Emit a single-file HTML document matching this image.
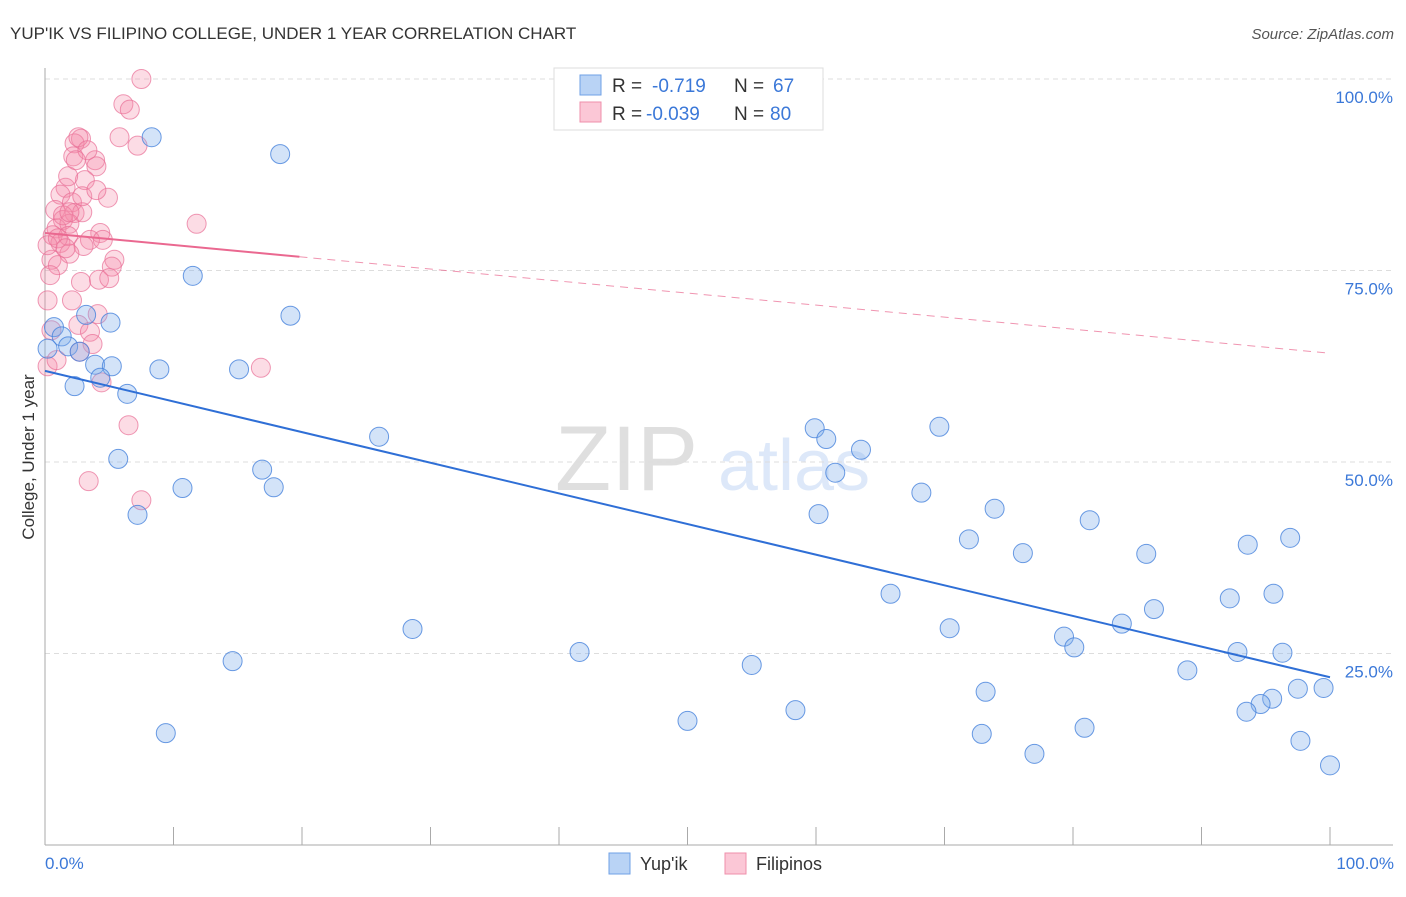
<!DOCTYPE html>
<html><head><meta charset="utf-8"><style>
body{margin:0;background:#fff;font-family:"Liberation Sans",sans-serif}
svg text{font-family:"Liberation Sans",sans-serif}
</style></head><body>
<svg id="chart" width="1406" height="892" xmlns="http://www.w3.org/2000/svg">
<text x="10" y="39" font-size="17" fill="#333">YUP'IK VS FILIPINO COLLEGE, UNDER 1 YEAR CORRELATION CHART</text>
<text x="1394" y="39" font-size="15" fill="#555" text-anchor="end" font-style="italic">Source: ZipAtlas.com</text>
<g opacity="0.18">
<text x="555" y="490" font-size="92" font-family="Liberation Serif,serif" fill="#555">ZIP</text>
<text x="718" y="490" font-size="72" fill="#4a86e0">atlas</text>
</g>
<g id="grid"></g>
<g id="axes"></g>
<g id="pink"></g>
<g id="blue"></g>
<g id="trends"></g>
<text transform="translate(34,457) rotate(-90)" font-size="17" fill="#333" text-anchor="middle">College, Under 1 year</text>
<text x="45" y="869" font-size="17" fill="#3b78d8">0.0%</text>
<text x="1394" y="869" font-size="17" fill="#3b78d8" text-anchor="end">100.0%</text>
<g>
<rect x="554" y="68" width="269" height="62" fill="#fff" stroke="#ddd"/>
<rect x="580" y="75" width="21" height="20" fill="#b9d3f5" stroke="#6fa0e6"/>
<rect x="580" y="102" width="21" height="20" fill="#fbc7d6" stroke="#ef8fab"/>
<text x="612" y="92" font-size="19" fill="#333">R =</text>
<text x="652" y="92" font-size="19" fill="#3b78d8">-0.719</text>
<text x="734" y="92" font-size="19" fill="#333">N =</text>
<text x="773" y="92" font-size="19" fill="#3b78d8">67</text>
<text x="612" y="120" font-size="19" fill="#333">R =</text>
<text x="646" y="120" font-size="19" fill="#3b78d8">-0.039</text>
<text x="734" y="120" font-size="19" fill="#333">N =</text>
<text x="770" y="120" font-size="19" fill="#3b78d8">80</text>
</g>
<g>
<rect x="609" y="853" width="21" height="21" fill="#b9d3f5" stroke="#6fa0e6"/>
<text x="640" y="870" font-size="18" fill="#333">Yup'ik</text>
<rect x="725" y="853" width="21" height="21" fill="#fbc7d6" stroke="#ef8fab"/>
<text x="756" y="870" font-size="18" fill="#333">Filipinos</text>
</g>
</svg>
<script>
const yTicks=[100,75,50,25];
const yTickLabels=["100.0%","75.0%","50.0%","25.0%"];
const xTicks=[0,10,20,30,40,50,60,70,80,90,100];
const blueX=[8.3,18.3,11.5,19.1,5.1,0.7,1.3,3.2,1.8,2.7,3.9,5.2,4.3,8.9,15.1,2.3,6.4,0.2,5.7,26.0,16.9,10.7,17.8,7.2,59.9,60.8,63.5,69.6,61.5,68.2,60.2,73.9,71.9,81.3,76.1,85.7,93.6,96.9,65.8,86.3,92.2,95.6,70.4,79.3,83.8,80.1,28.6,41.6,14.6,92.8,96.3,55.0,88.9,97.5,99.5,73.2,95.5,94.6,93.5,58.4,50.0,80.9,72.9,9.4,77.0,97.7,100];
const blueY=[92.4,90.2,74.3,69.1,68.2,67.6,66.4,69.2,65.1,64.4,62.7,62.5,61.0,62.1,62.1,59.9,58.9,64.8,50.4,53.3,49.0,46.6,46.7,43.1,54.4,53.0,51.6,54.6,48.6,46.0,43.2,43.9,39.9,42.4,38.1,38.0,39.2,40.1,32.8,30.8,32.2,32.8,28.3,27.2,28.9,25.8,28.2,25.2,24.0,25.2,25.1,23.5,22.8,20.4,20.5,20.0,19.1,18.4,17.4,17.6,16.2,15.3,14.5,14.6,11.9,13.6,10.4];
const pinkX=[7.5,6.1,6.6,2.8,2.3,2.2,3.9,7.2,2.6,5.8,4.0,3.1,1.6,1.8,1.2,2.1,2.3,2.9,0.8,1.4,0.9,1.9,0.6,1.2,1.8,4.3,3.5,4.5,3.0,4.9,11.8,1.9,0.5,5.4,5.2,1.0,0.4,2.8,4.2,5.0,2.1,4.1,0.2,2.6,3.5,3.7,2.7,0.2,0.9,16.8,4.4,6.5,3.4,7.5,0.2,1.4,0.5,3.3,2.4,1.9,1.0,1.6,2.9,4.0];
const pinkY=[100,96.7,96.0,92.2,91.6,89.9,89.4,91.3,92.4,92.4,88.6,86.8,85.8,87.3,84.9,83.9,82.5,82.6,82.9,81.6,80.5,81.1,79.6,78.6,79.5,79.9,79.0,79.0,78.2,84.5,81.1,77.2,76.4,76.4,75.5,75.7,74.4,73.5,73.8,74.0,71.1,69.3,71.1,67.9,67.0,65.4,64.4,62.5,63.3,62.3,60.4,54.8,47.5,45.0,78.3,82.2,67.2,90.7,89.4,82.6,79.2,77.9,84.7,85.5];
const blueTrend=[61.9,21.9];
const pinkTrend=[79.9,64.2];
const pinkSolidEnd=19.8;
const NS="http://www.w3.org/2000/svg";
const X0=45,X1=1330,Y0=845,Y100=79;
const sx=v=>X0+(X1-X0)*v/100;
const sy=v=>Y0-(Y0-Y100)*v/100;
function mk(p,t,a){const e=document.createElementNS(NS,t);for(const k in a)e.setAttribute(k,a[k]);document.getElementById(p).appendChild(e);return e;}
yTicks.forEach((t,i)=>{
 const l=mk('grid','line',{x1:X0,x2:1393,y1:sy(t),y2:sy(t),stroke:'#ddd','stroke-dasharray':'5,4'});
 
 
 const tx=mk('grid','text',{x:1393,y:sy(t)+24,'font-size':17,fill:'#3b78d8','text-anchor':'end'});
 tx.textContent=yTickLabels[i];
 
 
});
const ax=mk('axes','line',{x1:X0,x2:X0,y1:68,y2:Y0,stroke:'#aaa'});


const bx=mk('axes','line',{x1:X0,x2:1393,y1:Y0,y2:Y0,stroke:'#aaa'});


xTicks.forEach(t=>{const l=mk('axes','line',{x1:sx(t),x2:sx(t),y1:827,y2:Y0,stroke:'#aaa'});
 
 });
pinkX.forEach((x,i)=>{const c=mk('pink','circle',{cx:sx(x),cy:sy(pinkY[i]),r:9.5,fill:'rgba(245,140,170,0.3)',stroke:'rgba(232,110,150,0.7)','stroke-width':1});
 
 });
blueX.forEach((x,i)=>{const c=mk('blue','circle',{cx:sx(x),cy:sy(blueY[i]),r:9.5,fill:'rgba(130,175,235,0.35)',stroke:'rgba(70,130,220,0.8)','stroke-width':1});
 
 });
const bt=mk('trends','line',{x1:sx(0),y1:sy(blueTrend[0]),x2:sx(100),y2:sy(blueTrend[1]),stroke:'#2f6fd6','stroke-width':2});


const pAt=x=>pinkTrend[0]+(pinkTrend[1]-pinkTrend[0])*x/100;
const pt=mk('trends','line',{x1:sx(0),y1:sy(pAt(0)),x2:sx(pinkSolidEnd),y2:sy(pAt(pinkSolidEnd)),stroke:'#ea6890','stroke-width':2});


const pd=mk('trends','line',{x1:sx(pinkSolidEnd),y1:sy(pAt(pinkSolidEnd)),x2:sx(100),y2:sy(pAt(100)),stroke:'#ea6890','stroke-width':1,'stroke-dasharray':'8,6',opacity:0.7});


</script>
</body></html>
